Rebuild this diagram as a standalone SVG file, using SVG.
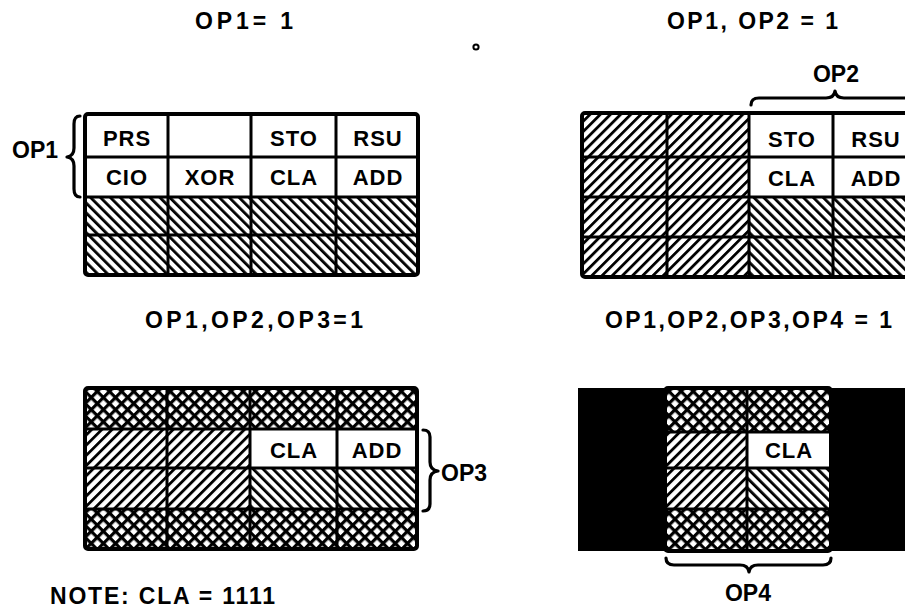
<svg xmlns="http://www.w3.org/2000/svg" width="905" height="608" viewBox="0 0 905 608">
<defs>
<style>
.t{font-family:"Liberation Sans",Arial,sans-serif;font-weight:bold;fill:#000}
.title{font-size:23px}
.cell{font-size:22px;text-anchor:middle;letter-spacing:1px}
.grid{stroke:#000;stroke-width:3;fill:none}
.outer{stroke:#000;stroke-width:4;fill:none}
.brace{stroke:#000;stroke-width:3.2;fill:none;stroke-linecap:round;stroke-linejoin:round}
</style>
<pattern id="bs" width="7" height="7" patternUnits="userSpaceOnUse" patternTransform="rotate(-45)">
<rect width="7" height="7" fill="#fff"/><rect width="2.8" height="7" fill="#000"/>
</pattern>
<pattern id="fs" width="7.2" height="7.2" patternUnits="userSpaceOnUse" patternTransform="rotate(45)">
<rect width="7.2" height="7.2" fill="#fff"/><rect width="2.8" height="7.2" fill="#000"/>
</pattern>
<pattern id="xh" width="8.6" height="8.6" patternUnits="userSpaceOnUse" patternTransform="rotate(45)">
<rect width="8.6" height="8.6" fill="#000"/><rect x="3.2" y="3.2" width="5.4" height="5.4" fill="#fff"/>
</pattern>
</defs>
<rect width="905" height="608" fill="#fff"/>

<g id="titles">
<text class="t title" x="195" y="29" textLength="98" lengthAdjust="spacing">OP1= 1</text>
<text class="t title" x="667" y="29" textLength="171" lengthAdjust="spacing">OP1, OP2 = 1</text>
<text class="t title" x="145" y="328" textLength="218" lengthAdjust="spacing">OP1,OP2,OP3=1</text>
<text class="t title" x="605" y="328" textLength="287" lengthAdjust="spacing">OP1,OP2,OP3,OP4 = 1</text>
<text class="t title" x="50" y="604" textLength="225" lengthAdjust="spacing">NOTE: CLA = 1111</text>
<circle cx="476" cy="47" r="2.6" fill="none" stroke="#000" stroke-width="2"/>
</g>

<g id="panel1">
<rect x="85" y="114" width="333" height="83" fill="#fff"/>
<rect x="85" y="197" width="333" height="78" fill="url(#bs)"/>
<path class="grid" d="M168,114V275M251,114V275M336,114V275M85,157H418M85,197H418M85,235H418"/>
<rect class="outer" x="85" y="114" width="333" height="161" rx="3"/>
<text class="t cell" x="127" y="146">PRS</text>
<text class="t cell" x="294" y="146">STO</text>
<text class="t cell" x="378" y="146">RSU</text>
<text class="t cell" x="127" y="185">CIO</text>
<text class="t cell" x="210" y="185">XOR</text>
<text class="t cell" x="294" y="185">CLA</text>
<text class="t cell" x="378" y="185">ADD</text>
</g>

<g id="panel2">
<rect x="582" y="113" width="167" height="164" fill="url(#fs)"/>
<rect x="749" y="113" width="170" height="84" fill="#fff"/>
<rect x="749" y="197" width="170" height="80" fill="url(#bs)"/>
<path class="grid" d="M667,113V277M749,113V277M833,113V277M582,157H910M582,197H910M582,237H910"/>
<rect class="outer" x="582" y="113" width="335" height="164" rx="3"/>
<text class="t cell" x="792" y="147">STO</text>
<text class="t cell" x="876" y="147">RSU</text>
<text class="t cell" x="792" y="186">CLA</text>
<text class="t cell" x="876" y="186">ADD</text>
</g>

<g id="panel3">
<rect x="85" y="388" width="332" height="41" fill="url(#xh)"/>
<rect x="85" y="509" width="332" height="40" fill="url(#xh)"/>
<rect x="85" y="429" width="165" height="80" fill="url(#fs)"/>
<rect x="250" y="429" width="167" height="39" fill="#fff"/>
<rect x="250" y="468" width="167" height="41" fill="url(#bs)"/>
<path class="grid" d="M167,388V549M250,388V549M337,388V549M85,429H417M85,468H417M85,509H417"/>
<rect class="outer" x="85" y="388" width="332" height="161" rx="3"/>
<text class="t cell" x="294" y="458">CLA</text>
<text class="t cell" x="377" y="458">ADD</text>
</g>

<g id="panel4">
<rect x="578" y="388" width="340" height="163" fill="#000"/>
<rect x="665" y="388" width="166" height="44" fill="url(#xh)"/>
<rect x="665" y="509" width="166" height="42" fill="url(#xh)"/>
<rect x="665" y="432" width="82" height="77" fill="url(#fs)"/>
<rect x="747" y="432" width="84" height="36" fill="#fff"/>
<rect x="747" y="468" width="84" height="41" fill="url(#bs)"/>
<path class="grid" d="M747,388V551M665,432H831M665,468H831M665,509H831"/>
<rect class="outer" x="665" y="388" width="166" height="163" rx="3"/>
<text class="t cell" x="789" y="458">CLA</text>
</g>

<g id="braces">
<path class="brace" d="M80,116Q74,116 74,124L74,148Q74,156 67,157Q74,158 74,166L74,189Q74,197 80,197"/>
<text class="t title" x="12" y="158">OP1</text>
<path class="brace" d="M751,105Q751,98 759,98L826,98Q834,98 835,91Q836,98 844,98L911,98Q919,98 919,105"/>
<text class="t title" x="836" y="82" text-anchor="middle">OP2</text>
<path class="brace" d="M423,430Q430,430 430,437L430,462Q430,470 438,471Q430,472 430,480L430,504Q430,511 423,511"/>
<text class="t title" x="441" y="481">OP3</text>
<path class="brace" d="M666,558Q666,565 674,565L740,565Q748,565 749,572Q750,565 758,565L823,565Q831,565 831,558"/>
<text class="t title" x="748" y="601" text-anchor="middle">OP4</text>
</g>
</svg>
